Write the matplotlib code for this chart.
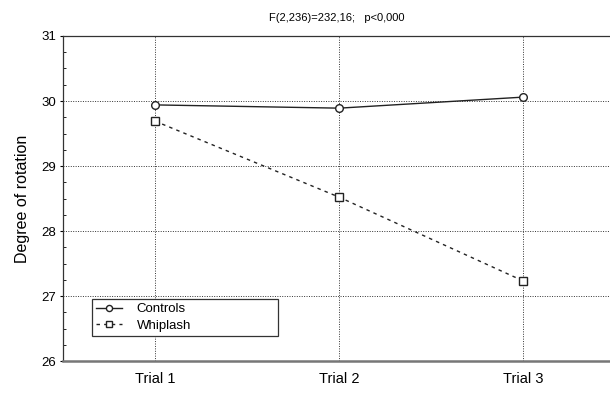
import matplotlib
matplotlib.use("Agg")
import matplotlib.pyplot as plt
from matplotlib.ticker import MultipleLocator

trials = ["Trial 1", "Trial 2", "Trial 3"]
controls = [29.94, 29.89, 30.06]
whiplash = [29.69, 28.52, 27.23]
title = "F(2,236)=232,16;   p<0,000"

plt.rcParams["font.family"] = ["Liberation Sans", "DejaVu Sans"]

fig = plt.figure(figsize=(6.10, 3.93), dpi=100)
ax = fig.add_axes([0.1033, 0.0814, 0.8967, 0.8270])

x = list(range(1, len(trials) + 1))
ax.plot(x, controls, color="#222222", linewidth=1.0, marker="o", markersize=5.5,
        markerfacecolor="white", markeredgecolor="#222222", label="Controls", zorder=3)
ax.plot(x, whiplash, color="#222222", linewidth=1.0, linestyle=(0, (2.5, 3)), marker="s",
        markersize=6, markerfacecolor="white", markeredgecolor="#222222",
        label="Whiplash", zorder=3)

ax.set_xlim(0.5, 3.47)
ax.set_ylim(26, 31)
ax.set_xticks(x)
ax.set_xticklabels(trials, fontsize=10.5)
ax.yaxis.set_major_locator(MultipleLocator(1))
ax.yaxis.set_minor_locator(MultipleLocator(0.25))
ax.tick_params(axis="y", which="major", labelsize=9.5, length=2, direction="out", pad=3)
ax.tick_params(axis="y", which="minor", length=2, direction="in")
ax.tick_params(axis="x", length=0, pad=8)

ax.grid(True, which="major", color="#333333", linestyle=(0, (1, 1.5)), linewidth=0.7)

ax.spines["right"].set_visible(False)
ax.spines["left"].set_color("#333333")
ax.spines["left"].set_linewidth(0.9)
ax.spines["top"].set_color("#333333")
ax.spines["top"].set_linewidth(0.9)
ax.spines["bottom"].set_color("#777777")
ax.spines["bottom"].set_linewidth(1.8)

ax.set_ylabel("Degree of rotation", fontsize=11.5, labelpad=8)
ax.set_title(title, fontsize=8, pad=11)

leg = ax.legend(loc="upper left", bbox_to_anchor=(0.053, 0.19, 0.34, 0), mode="expand",
                fontsize=9.5, frameon=True, fancybox=False, handlelength=2.0,
                borderpad=0.3, labelspacing=0.3, handletextpad=1.1, borderaxespad=0,
                markerscale=0.8)
leg.get_frame().set_edgecolor("#333333")
leg.get_frame().set_linewidth(0.9)
leg.get_frame().set_alpha(1)

fig.savefig("out.png", dpi=100)
plt.close(fig)
